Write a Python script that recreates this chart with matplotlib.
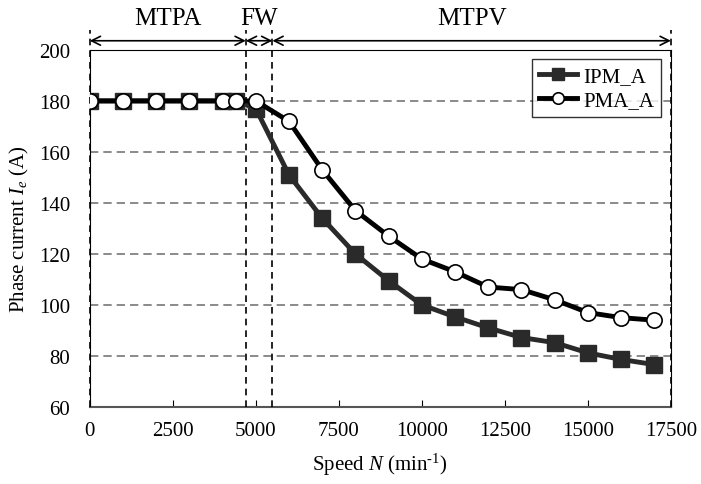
import numpy as np
import matplotlib
matplotlib.use("Agg")
import matplotlib.pyplot as plt

plt.rcParams['font.family'] = ['Liberation Serif', 'DejaVu Serif']
plt.rcParams['mathtext.fontset'] = 'custom'
plt.rcParams['mathtext.rm'] = 'Liberation Serif'
plt.rcParams['mathtext.it'] = 'Liberation Serif:italic'

# data
speed = [0, 1000, 2000, 3000, 4000, 4400, 5000, 6000, 7000, 8000, 9000,
         10000, 11000, 12000, 13000, 14000, 15000, 16000, 17000]
ipm_a = [180, 180, 180, 180, 180, 180, 177, 151, 134, 120, 109.5,
         100, 95.3, 91, 87.2, 85.2, 81.2, 78.6, 76.6]
pma_a = [180, 180, 180, 180, 180, 180, 180, 172, 153, 137, 127,
         118, 113, 107, 106, 102, 97, 95, 94]

region_edges = [0, 4700, 5500, 17500]
region_names = ["MTPA", "FW", "MTPV"]

x_ticks = [0, 2500, 5000, 7500, 10000, 12500, 15000, 17500]
y_ticks = [60, 80, 100, 120, 140, 160, 180, 200]

fig = plt.figure(figsize=(7.01, 4.85), dpi=100)
ax = fig.add_axes([0.128, 0.159, 0.829, 0.736])

ax.plot(speed, ipm_a, color='#2a2a2a', lw=3.5, marker='s', ms=11,
        mfc='#2a2a2a', mec='#2a2a2a', label='IPM_A', zorder=4)
ax.plot(speed, pma_a, color='black', lw=3.5, marker='o', ms=11,
        mfc='white', mec='black', mew=1.2, label='PMA_A', zorder=5)

ax.set_xlim(0, 17500)
ax.set_ylim(60, 200)
ax.set_xticks(x_ticks)
ax.set_yticks(y_ticks)
ax.tick_params(axis='x', direction='in', length=5, labelsize=15, pad=10)
ax.tick_params(axis='y', length=0, labelsize=15, pad=14)
ax.grid(axis='y', linestyle=(0, (5, 3)), color='#777777', lw=1.2)

for sp in ['top', 'right', 'left']:
    ax.spines[sp].set_color('black')
ax.spines['bottom'].set_color('#555555')
ax.spines['bottom'].set_linewidth(1.5)

# region boundaries and arrows
for xe in region_edges:
    ax.plot([xe, xe], [60, 207.8], color='black', lw=1.2,
            linestyle=(0, (4, 3)), clip_on=False, zorder=3)
for i, name in enumerate(region_names):
    x0, x1 = region_edges[i], region_edges[i + 1]
    ax.annotate('', xy=(x0, 203.6), xytext=(x1, 203.6),
                arrowprops=dict(arrowstyle='<->', color='black', lw=1.2,
                                shrinkA=0, shrinkB=0, mutation_scale=16),
                annotation_clip=False)
    ax.text((x0 + x1) / 2, 210.2, name, ha='center', va='baseline',
            fontsize=18)

ax.set_xlabel('Speed $\\mathit{N}$ (min$^{\\text{-1}}$)', fontsize=15, labelpad=8)
ax.set_ylabel('Phase current $\\mathit{I_e}$ (A)', fontsize=15, labelpad=6)

leg = ax.legend(loc='upper right', fontsize=15, frameon=True, fancybox=False,
                edgecolor='black', handlelength=1.8, borderpad=0.35,
                labelspacing=0.2, handletextpad=0.3, borderaxespad=0.45,
                markerscale=0.75)
leg.get_frame().set_linewidth(1.0)

fig.savefig('out.png', dpi=100)
